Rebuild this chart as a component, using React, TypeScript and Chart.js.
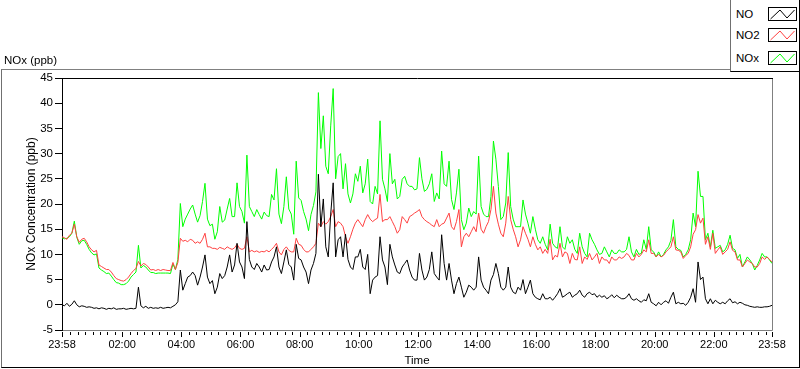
import React, { useEffect, useRef } from "react";
import { Chart, registerables } from "chart.js";

Chart.register(...registerables);

// Time axis: minutes after midnight, from 23:58 (previous day) to 23:58
const START_MIN = -2;
const STEP_MIN = 5;
const X_MIN = -2;
const X_MAX = 1438;
const X_TICKS = [-2, 120, 240, 360, 480, 600, 720, 840, 960, 1080, 1200, 1320, 1438];
const MINOR_STEP = 15;
const Y_MIN = -5;
const Y_MAX = 45;
const Y_STEP = 5;

const SERIES_NAMES = ["NO", "NO2", "NOx"];
const SERIES_COLORS = ["#000000", "#ff4040", "#00ff00"];

// NO (ppb), one value every 5 minutes
const NO = [
  0.0, -0.2, 0.3, -0.3, 0.1, 0.8, 0.0, -0.4, -0.2, -0.3, -0.5, -0.4,
  -0.5, -0.7, -0.6, -0.8, -0.6, -0.7, -0.9, -0.7, -0.8, -0.6, -0.9, -0.8,
  -0.8, -0.7, -0.9, -0.8, -0.7, -0.8, -0.7, 3.5, -0.2, -0.6, -0.3, -0.7,
  -0.5, -0.7, -0.6, -0.7, -0.5, -0.7, -0.6, -0.5, -0.6, -0.3, 0.0, 0.6,
  6.9, 2.9, 4.2, 5.5, 5.8, 6.5, 5.8, 3.9, 5.5, 7.5, 9.9, 5.5,
  4.2, 4.8, 2.2, 3.5, 6.2, 5.2, 5.8, 7.5, 9.9, 6.5, 7.9, 12.2,
  8.5, 7.5, 5.2, 16.5, 9.0, 7.5, 7.0, 8.2, 7.5, 6.5, 7.9, 6.9,
  7.0, 8.5, 9.5, 11.5, 7.5, 6.2, 8.5, 10.9, 8.0, 7.5, 4.9, 12.0,
  9.2, 8.9, 7.5, 6.5, 4.2, 6.9, 8.2, 10.2, 25.9, 15.5, 21.0, 11.5,
  9.5, 18.0, 24.2, 9.5, 12.9, 13.5, 9.5, 14.0, 9.0, 7.5, 7.0, 9.5,
  9.5, 11.0, 7.5, 7.0, 10.0, 2.2, 4.9, 5.5, 5.8, 13.5, 8.9, 7.5,
  4.0, 12.0, 9.5, 7.9, 6.5, 6.2, 7.5, 8.2, 8.9, 6.9, 5.5, 4.9,
  4.9, 10.2, 6.9, 4.9, 5.5, 7.0, 10.5, 6.2, 5.5, 4.9, 13.9, 8.2,
  4.9, 8.2, 4.9, 2.2, 4.2, 5.5, 3.5, 1.5, 2.5, 3.9, 3.5, 2.9,
  3.5, 9.5, 4.9, 3.5, 2.9, 2.2, 4.9, 6.0, 8.2, 6.2, 3.5, 2.9,
  3.5, 7.5, 3.5, 2.5, 2.2, 3.5, 2.9, 5.0, 2.2, 3.5, 4.9, 2.2,
  1.5, 1.2, 1.0, 2.2, 1.2, 1.2, 1.5, 0.9, 1.5, 2.2, 3.2, 1.5,
  1.8, 2.2, 2.5, 1.5, 1.9, 2.2, 2.9, 1.9, 1.5, 2.2, 2.5, 2.0,
  2.2, 1.5, 1.9, 1.5, 1.8, 1.2, 1.5, 2.0, 1.4, 1.9, 1.5, 1.2,
  1.2, 1.5, 2.2, 1.2, 0.9, 1.2, 0.8, 0.5, 1.0, 0.8, 2.2, 0.5,
  0.2, -0.2, 0.5, 0.0, 0.5, 0.8, 0.3, 1.5, 2.5, 0.2, 0.5, 0.2,
  0.3, -0.1, 0.5, 1.5, 3.2, 0.5, 8.5, 5.0, 5.5, 1.2, 0.2, 1.2,
  0.2, 0.9, 0.5, 0.2, 0.5, 0.2, 0.8, 1.2, 0.4, 0.6, 0.2, 0.5,
  0.3, 0.0, -0.1, -0.3, -0.4, -0.5, -0.4, -0.5, -0.5, -0.4, -0.4, -0.3, -0.1,
];

// NO2 (ppb)
const NO2 = [
  13.5, 13.3, 13.0, 13.8, 14.2, 16.0, 13.5, 12.4, 13.0, 13.2, 12.5, 11.5,
  10.9, 10.5, 10.8, 7.9, 7.6, 7.3, 7.0, 7.0, 6.5, 5.8, 5.2, 5.0,
  4.8, 4.7, 5.0, 5.5, 6.2, 6.8, 7.2, 8.6, 7.7, 8.2, 8.0, 7.5,
  6.9, 7.0, 6.8, 7.0, 6.8, 7.0, 6.9, 6.8, 6.8, 8.4, 7.0, 8.4,
  13.2, 12.6, 12.8, 12.5, 13.0, 12.8, 12.2, 12.5, 12.2, 13.0, 14.2, 11.5,
  11.5, 11.2, 11.2, 11.0, 11.4, 11.2, 11.0, 11.5, 11.2, 11.0, 11.3, 12.0,
  11.2, 11.0, 11.2, 13.5, 10.5, 10.8, 10.5, 10.7, 10.4, 10.6, 10.5, 10.8,
  10.5, 11.0, 11.5, 12.2, 10.5, 9.9, 11.0, 11.5, 10.8, 10.5, 10.5, 13.2,
  12.0, 11.8, 11.0, 10.5, 10.5, 11.0, 11.5, 12.2, 16.2, 15.5, 16.5, 16.0,
  16.5, 17.5, 18.9, 15.5, 16.5, 16.2, 15.5, 13.5, 12.2, 13.5, 15.0, 16.2,
  16.9, 16.2, 15.5, 16.9, 17.9, 17.0, 16.5, 16.9, 17.2, 21.9, 16.5, 16.9,
  16.9, 17.5, 16.5, 15.5, 14.2, 14.9, 17.5, 16.9, 16.2, 17.5, 17.8, 18.2,
  18.5, 18.9, 17.5, 16.9, 16.5, 16.2, 15.8, 15.5, 16.9, 15.5, 16.0, 16.2,
  17.2, 18.2, 15.5, 14.9, 16.5, 18.9, 11.5, 13.5, 14.2, 13.5, 14.5, 15.5,
  14.5, 18.2, 15.0, 14.2, 15.5, 16.5, 18.9, 23.5, 18.2, 16.0, 14.2, 13.5,
  16.2, 21.5, 16.9, 15.0, 13.5, 11.5, 12.9, 15.5, 14.2, 13.0, 11.5, 13.5,
  12.0, 10.9, 11.5, 10.2, 11.0, 10.2, 13.0, 8.9, 9.8, 9.5, 12.2, 9.5,
  10.5, 10.2, 8.2, 10.2, 9.0, 8.9, 11.5, 8.2, 9.5, 9.0, 10.2, 8.9,
  9.5, 10.2, 8.2, 9.5, 8.9, 8.9, 8.2, 9.5, 8.9, 8.9, 9.5, 9.2,
  9.5, 10.2, 9.8, 8.9, 8.9, 10.2, 9.5, 10.0, 10.9, 10.5, 12.9, 10.2,
  10.2, 9.5, 10.0, 9.5, 9.8, 10.5, 11.0, 11.5, 13.5, 10.9, 10.8, 10.5,
  9.2, 9.8, 10.2, 11.5, 14.0, 14.9, 17.9, 16.2, 17.2, 12.0, 13.5, 11.0,
  14.2, 10.2, 10.9, 11.5, 10.0, 10.5, 11.0, 12.5, 10.8, 10.5, 8.9, 8.9,
  7.5, 8.2, 8.9, 8.5, 8.2, 7.5, 7.5, 8.2, 9.5, 9.0, 9.5, 9.0, 8.5,
];

// NOx (ppb)
const NOX = [
  13.3, 13.1, 13.2, 13.5, 14.2, 16.6, 13.4, 12.0, 12.7, 12.8, 12.0, 11.0,
  10.3, 9.9, 10.1, 7.3, 6.9, 6.6, 6.2, 6.3, 5.7, 5.0, 4.4, 4.3,
  4.0, 4.0, 4.2, 4.7, 5.5, 6.0, 6.5, 11.8, 7.3, 7.8, 7.5, 6.9,
  6.4, 6.4, 6.2, 6.3, 6.3, 6.3, 6.3, 6.3, 6.2, 8.1, 7.0, 9.0,
  20.1, 15.5, 17.0, 18.0, 19.0, 19.8, 18.0, 16.4, 17.7, 20.5, 24.1, 17.0,
  15.7, 16.0, 13.0, 14.5, 19.5, 16.4, 16.8, 19.0, 21.1, 17.5, 17.5, 24.2,
  19.5, 18.5, 16.2, 29.7, 19.5, 18.5, 17.5, 18.9, 17.9, 17.0, 18.4, 17.7,
  17.5, 21.9, 20.8, 27.0, 18.0, 16.1, 19.5, 25.4, 19.0, 18.0, 14.0, 28.5,
  21.2, 20.7, 18.5, 17.0, 14.7, 17.9, 19.7, 22.4, 42.1, 31.0, 37.5, 27.5,
  26.0, 35.5, 42.9, 25.0, 29.4, 30.0, 23.0, 28.0, 22.0, 20.2, 22.0, 26.0,
  24.5, 27.5, 22.2, 24.0, 28.9, 20.5, 20.0, 23.5, 22.0, 36.5, 24.9, 23.0,
  20.5, 30.0, 24.0, 24.9, 21.0, 21.5, 24.9, 25.5, 24.0, 23.5, 23.5, 22.8,
  23.0, 29.2, 25.0, 22.5, 22.9, 24.0, 26.0, 20.5, 22.2, 21.0, 30.5, 24.0,
  23.5, 28.5, 20.9, 18.9, 22.2, 26.9, 16.9, 14.9, 16.2, 19.2, 17.5, 18.5,
  18.0, 29.5, 19.5, 18.0, 17.5, 17.5, 21.5, 32.5, 28.9, 23.5, 16.9, 17.5,
  20.2, 30.2, 19.5, 17.0, 15.5, 15.5, 15.5, 20.8, 18.0, 16.2, 14.2, 17.5,
  15.0, 12.9, 12.2, 13.5, 12.0, 10.9, 16.0, 12.2, 11.5, 11.2, 15.5, 11.5,
  11.0, 13.5, 12.2, 12.9, 11.0, 10.2, 14.2, 11.5, 10.2, 9.5, 14.2, 12.9,
  12.0, 10.9, 10.0, 10.2, 11.5, 10.5, 9.5, 10.9, 10.2, 10.2, 10.9, 10.5,
  10.5, 11.0, 13.5, 10.5, 9.5, 11.0, 10.0, 10.2, 12.9, 11.0, 15.5, 10.9,
  10.5, 9.5, 10.5, 9.5, 10.0, 10.9, 11.5, 12.8, 16.9, 11.5, 11.0, 10.8,
  9.5, 10.0, 10.9, 12.9, 18.2, 15.5, 26.5, 21.5, 21.5, 12.9, 14.2, 11.5,
  14.8, 11.2, 11.5, 11.8, 10.5, 10.9, 12.0, 13.8, 11.2, 10.9, 9.2, 10.0,
  7.5, 8.5, 9.5, 8.9, 8.2, 6.9, 7.8, 8.9, 10.2, 9.5, 9.5, 8.9, 8.2,
];

const SERIES = [NO, NO2, NOX];

const FONT = "'Liberation Sans', Arial, sans-serif";

function pad2(n: number) {
  return n < 10 ? "0" + n : String(n);
}
function fmtTime(v: number) {
  const m = ((v % 1440) + 1440) % 1440;
  return pad2(Math.floor(m / 60)) + ":" + pad2(Math.round(m % 60));
}

const frameTicksPlugin = {
  id: "frameTicks",
  afterDraw(chart: any) {
    const { ctx, chartArea: a, scales } = chart;
    const xs = scales.x;
    ctx.save();
    ctx.lineWidth = 1;
    // top border black
    ctx.strokeStyle = "#000";
    ctx.beginPath();
    ctx.moveTo(a.left, a.top + 0.5);
    ctx.lineTo(a.right + 1, a.top + 0.5);
    ctx.stroke();
    // right + bottom border grey
    ctx.strokeStyle = "#808080";
    ctx.beginPath();
    ctx.moveTo(a.right + 0.5, a.top + 1);
    ctx.lineTo(a.right + 0.5, a.bottom + 0.5);
    ctx.lineTo(a.left + 1, a.bottom + 0.5);
    ctx.stroke();
    // major ticks on the time axis
    ctx.strokeStyle = "#000";
    ctx.beginPath();
    for (const t of xs.ticks) {
      const px = Math.round(xs.getPixelForValue(t.value)) + 0.5;
      ctx.moveTo(px, a.bottom + 2);
      ctx.lineTo(px, a.bottom + 7);
    }
    // minor ticks
    for (let m = MINOR_STEP; m < X_MAX; m += MINOR_STEP) {
      if (m % 120 === 0) continue;
      const px = Math.round(xs.getPixelForValue(m)) + 0.5;
      ctx.moveTo(px, a.bottom + 2);
      ctx.lineTo(px, a.bottom + 5);
    }
    ctx.stroke();
    ctx.restore();
  },
};

function LegendSample({ color }: { color: string }) {
  return (
    <svg width={29} height={14} style={{ display: "block" }}>
      <rect x={0.5} y={0.5} width={28} height={13} fill="#fff" stroke="#000" />
      <polyline points="2.5,12 12,3 19,11 26.5,3" fill="none" stroke={color} strokeWidth={1} />
    </svg>
  );
}

export default function App() {
  const ref = useRef<HTMLCanvasElement | null>(null);

  useEffect(() => {
    const canvas = ref.current;
    if (!canvas) return;
    const datasets = SERIES.map((arr, k) => ({
      label: SERIES_NAMES[k],
      data: arr.map((v, i) => ({ x: START_MIN + i * STEP_MIN, y: v })),
      borderColor: SERIES_COLORS[k],
      backgroundColor: SERIES_COLORS[k],
      borderWidth: 1,
      pointRadius: 0,
      tension: 0,
      fill: false,
    }));
    const chart = new Chart(canvas, {
      type: "line",
      data: { datasets },
      options: {
        responsive: false,
        maintainAspectRatio: false,
        devicePixelRatio: 1,
        animation: false,
        events: [],
        layout: { padding: { left: 0, top: 78, right: 28, bottom: 0 } },
        plugins: { legend: { display: false }, tooltip: { enabled: false } },
        scales: {
          x: {
            type: "linear",
            min: X_MIN,
            max: X_MAX,
            afterBuildTicks: (s: any) => {
              s.ticks = X_TICKS.map((v) => ({ value: v }));
            },
            afterFit: (s: any) => {
              s.height = 39;
            },
            grid: { display: false, drawTicks: false },
            border: { display: false },
            ticks: {
              autoSkip: false,
              maxRotation: 0,
              minRotation: 0,
              padding: 8,
              color: "#000",
              font: { family: FONT, size: 11 },
              callback: (v: any) => fmtTime(Number(v)),
            },
            title: {
              display: true,
              text: "Time",
              color: "#000",
              font: { family: FONT, size: 11.5 },
              padding: { top: 0, bottom: 1 },
            },
          },
          y: {
            type: "linear",
            min: Y_MIN,
            max: Y_MAX,
            afterFit: (s: any) => {
              s.width = 62;
            },
            grid: {
              display: true,
              drawOnChartArea: false,
              drawTicks: true,
              tickLength: 7,
              tickColor: "#000",
              color: "#000",
            },
            border: { display: true, color: "#000", width: 1 },
            ticks: {
              stepSize: Y_STEP,
              padding: 2,
              color: "#000",
              font: { family: FONT, size: 11.5 },
            },
            title: {
              display: true,
              text: "NOx Concentration (ppb)",
              color: "#000",
              font: { family: FONT, size: 12 },
              padding: { top: 24, bottom: 0 },
            },
          },
        },
      },
      plugins: [frameTicksPlugin],
    } as any);
    return () => chart.destroy();
  }, []);

  const legendTops = [7, 28, 51];

  return (
    <div
      style={{
        position: "fixed",
        left: 0,
        top: 0,
        width: 800,
        height: 369,
        background: "#fff",
        overflow: "hidden",
        fontFamily: FONT,
      }}
    >
      <div
        style={{
          position: "absolute",
          left: 1,
          top: 69,
          width: 797,
          height: 297,
          borderTop: "1px solid #808080",
          borderLeft: "1px solid #707070",
          borderRight: "1px solid #000",
          borderBottom: "1px solid #000",
        }}
      />
      <canvas
        ref={ref}
        width={800}
        height={369}
        style={{ position: "absolute", left: 0, top: 0, width: 800, height: 369 }}
      />
      <div
        style={{
          position: "absolute",
          left: 4,
          top: 53,
          fontSize: 11.5,
          lineHeight: "14px",
          color: "#000",
          whiteSpace: "nowrap",
        }}
      >
        NOx (ppb)
      </div>
      <div
        style={{
          position: "absolute",
          left: 730,
          top: 0,
          width: 68,
          height: 71,
          background: "#fff",
          borderLeft: "1px solid #707070",
          borderRight: "1px solid #000",
          borderBottom: "1px solid #000",
        }}
      >
        {SERIES_NAMES.map((name, k) => (
          <React.Fragment key={name}>
            <div
              style={{
                position: "absolute",
                left: 5,
                top: legendTops[k],
                height: 14,
                lineHeight: "14px",
                fontSize: 11.5,
                color: "#000",
                whiteSpace: "nowrap",
              }}
            >
              {name}
            </div>
            <div style={{ position: "absolute", left: 37, top: legendTops[k] }}>
              <LegendSample color={SERIES_COLORS[k]} />
            </div>
          </React.Fragment>
        ))}
      </div>
    </div>
  );
}
